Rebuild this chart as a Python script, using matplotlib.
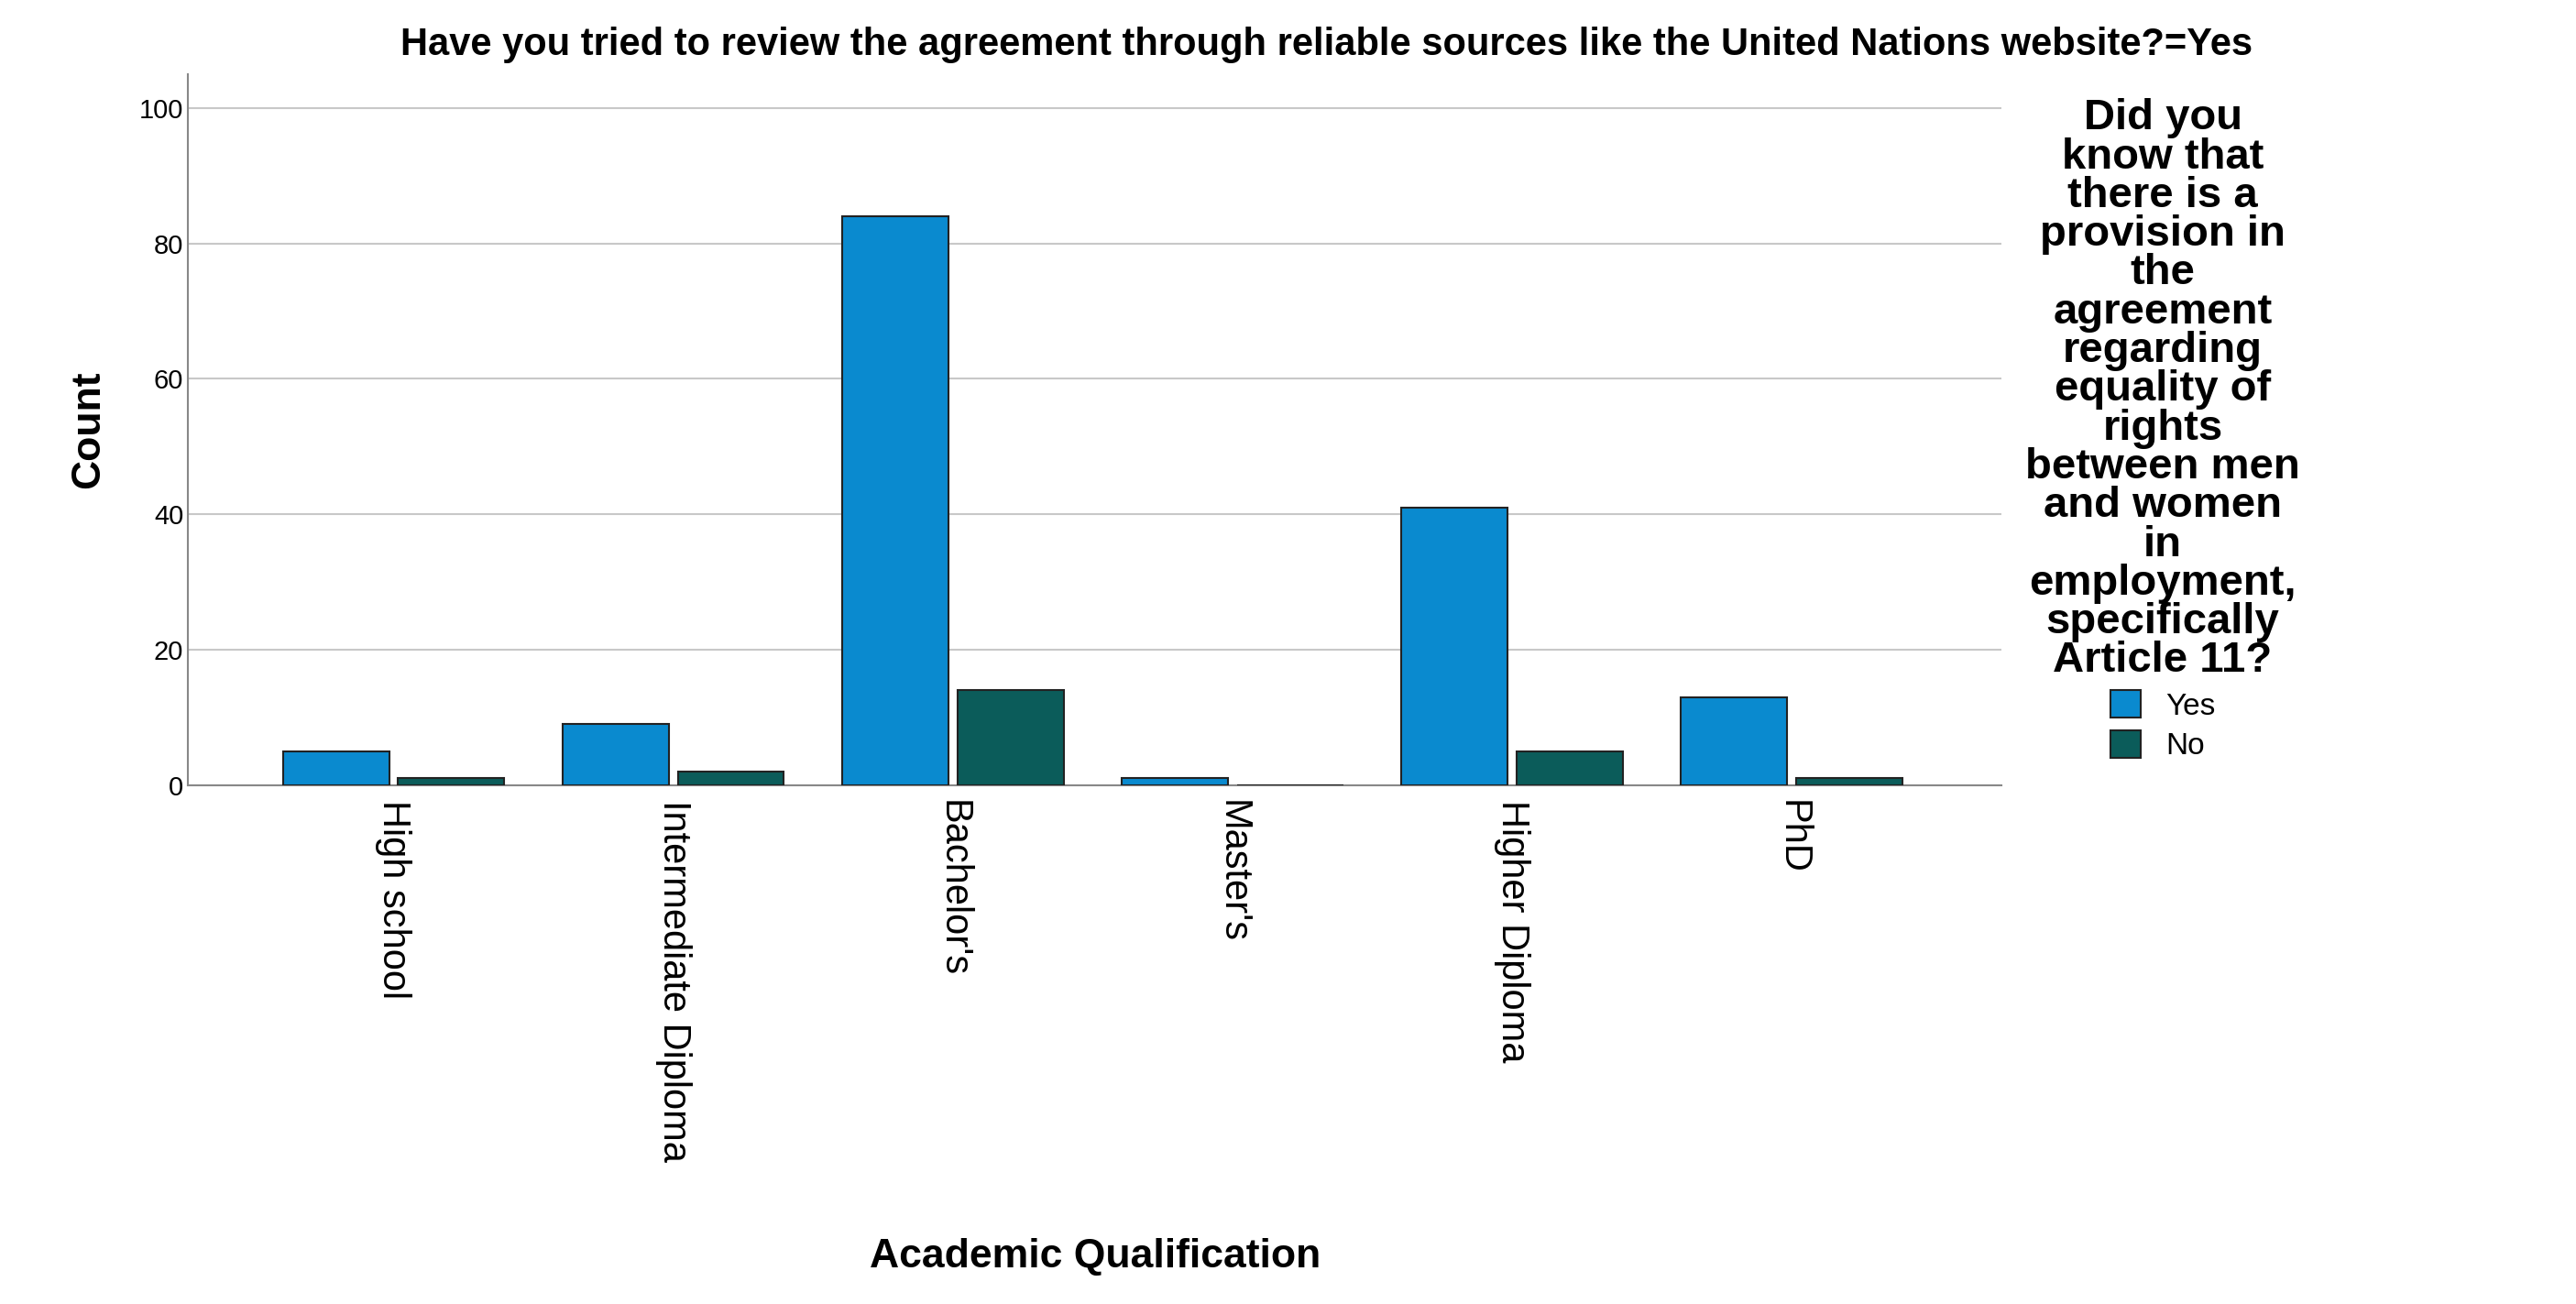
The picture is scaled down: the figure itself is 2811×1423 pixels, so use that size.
import matplotlib
matplotlib.use("Agg")
import matplotlib.pyplot as plt
import numpy as np

plt.rcParams["font.family"] = ["Liberation Sans", "DejaVu Sans"]

categories = ["High school", "Intermediate Diploma", "Bachelor's", "Master's", "Higher Diploma", "PhD"]
yes_counts = [5, 9, 84, 1, 41, 13]
no_counts = [1, 2, 14, 0, 5, 1]

yes_color = "#0A8ACF"
no_color = "#0B5C5A"

fig = plt.figure(figsize=(28.11, 14.23), dpi=100)
ax = fig.add_axes([0.073, 0.398, 0.704, 0.545])

x = np.arange(len(categories))
w = 0.38
ax.bar(x - 0.206, yes_counts, w, color=yes_color, edgecolor="#222222", linewidth=1.5, label="Yes", zorder=3)
ax.bar(x + 0.206, no_counts, w, color=no_color, edgecolor="#222222", linewidth=1.5, label="No", zorder=3)

ax.set_xlim(-0.735, 5.75)
ax.set_ylim(0, 105)
ax.set_yticks([0, 20, 40, 60, 80, 100])
ax.yaxis.grid(True, color="#c8c8c8", linewidth=1.5, zorder=0)
ax.set_xticks(x)
ax.set_xticklabels(categories, rotation=-90, fontsize=30)
ax.tick_params(axis="y", labelsize=21, length=0)
ax.tick_params(axis="x", length=0, pad=12)
for s in ["top", "right"]:
    ax.spines[s].set_visible(False)
ax.spines["left"].set_color("#888888")
ax.spines["bottom"].set_color("#888888")
ax.spines["left"].set_linewidth(1.5)
ax.spines["bottom"].set_linewidth(1.5)

ax.set_ylabel("Count", fontsize=32, fontweight="bold", labelpad=25)
fig.text(0.425, 0.028, "Academic Qualification", fontsize=32, fontweight="bold", ha="center")
fig.text(0.515, 0.958, "Have you tried to review the agreement through reliable sources like the United Nations website?=Yes",
         fontsize=30, fontweight="bold", ha="center")

leg = ax.legend(title="Did you\nknow that\nthere is a\nprovision in\nthe\nagreement\nregarding\nequality of\nrights\nbetween men\nand women\nin\nemployment,\nspecifically\nArticle 11?",
                loc="upper left", bbox_to_anchor=(0.998, 1.005), frameon=False, fontsize=24,
                title_fontproperties={"weight": "bold", "size": 34}, handlelength=1.0, handleheight=1.0,
                labelspacing=0.3)
leg.get_title().set_multialignment("center")
leg.get_title().set_linespacing(0.95)
for h in leg.legend_handles:
    h.set_edgecolor("#222222")

fig.savefig("out.png", dpi=100)
